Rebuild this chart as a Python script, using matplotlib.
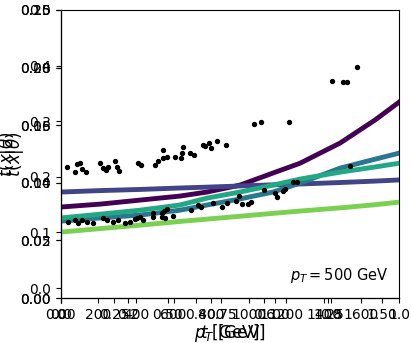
import numpy as np
import matplotlib.pyplot as plt

# upper and lower groups of measured points
pt_hi = [32, 75, 85, 101, 112, 133, 208, 224, 240, 250, 288, 298, 309, 410, 426, 501, 517,
         543, 543, 564, 607, 639, 644, 650, 687, 708, 756, 767, 788, 799, 831, 879, 1028,
         1065, 1214, 1443, 1502, 1523, 1576]
t_hi = [0.0455, 0.0438, 0.0465, 0.0469, 0.0448, 0.0438, 0.0469, 0.0451, 0.0444, 0.0455,
        0.0476, 0.0455, 0.0441, 0.0469, 0.0462, 0.0462, 0.0476, 0.0514, 0.0486, 0.0490,
        0.0490, 0.0486, 0.0503, 0.0524, 0.0503, 0.0496, 0.0531, 0.0528, 0.0538, 0.0521,
        0.0545, 0.0531, 0.0604, 0.0611, 0.0611, 0.0753, 0.0750, 0.0750, 0.0802]
pt_lo = [37, 75, 91, 112, 138, 170, 224, 245, 277, 304, 341, 367, 394, 405, 421, 437, 490,
         490, 538, 538, 548, 564, 554, 596, 692, 730, 746, 809, 857, 884, 932, 948, 964,
         996, 1012, 1081, 1140, 1150, 1182, 1193, 1235, 1257, 1539]
t_lo = [0.0264, 0.0271, 0.0260, 0.0271, 0.0264, 0.0260, 0.0278, 0.0271, 0.0264, 0.0271,
        0.0260, 0.0264, 0.0274, 0.0278, 0.0281, 0.0271, 0.0295, 0.0281, 0.0295, 0.0281,
        0.0302, 0.0309, 0.0278, 0.0285, 0.0305, 0.0323, 0.0316, 0.0330, 0.0316, 0.0330,
        0.0337, 0.0354, 0.0326, 0.0326, 0.0333, 0.0375, 0.0364, 0.0350, 0.0371, 0.0378,
        0.0403, 0.0403, 0.0458]

# fitted curves
pt_grid = [0, 208, 421, 634, 778, 953, 1129, 1273, 1486, 1672, 1800]
curves = {
    '#440154': [0.0316, 0.0326, 0.0340, 0.0354, 0.0368, 0.0392, 0.0434, 0.0468, 0.0538, 0.0618, 0.0680],
    '#414487': [0.0368, 0.0373, 0.0377, 0.0382, 0.0385, 0.0389, 0.0393, 0.0396, 0.0401, 0.0406, 0.0410],
    '#2a788e': [0.0267, 0.0278, 0.0288, 0.0305, 0.0323, 0.0344, 0.0368, 0.0399, 0.0451, 0.0482, 0.0503],
    '#22a884': [0.0278, 0.0291, 0.0305, 0.0323, 0.0347, 0.0368, 0.0392, 0.0413, 0.0437, 0.0455, 0.0468],
    '#7ad151': [0.0229, 0.0241, 0.0253, 0.0266, 0.0274, 0.0284, 0.0294, 0.0302, 0.0313, 0.0324, 0.0333],
}

fig = plt.figure(figsize=(4.11, 3.43), dpi=100)
pos = [0.148, 0.131, 0.823, 0.840]

# leftover empty axes stacked on the same spot
ax0 = fig.add_axes(pos)
ax0.set_xlim(0, 1)
ax0.set_ylim(-0.018, 0.5)
ax0.set_yticks([0, 0.1, 0.2, 0.3, 0.4, 0.5])
ax0.set_ylabel(r'$t(x|\theta)$', fontsize=12, labelpad=2)
ax0.set_xlabel(r'$t$ [GeV]', fontsize=12, labelpad=0.5)

ax1 = fig.add_axes(pos, facecolor='none')
ax1.set_xlim(0, 1.58)
ax1.set_ylim(0, 0.25)
ax1.set_xticks([0, 0.25, 0.5, 0.75, 1.0, 1.25, 1.5])
ax1.set_yticks([0, 0.05, 0.1, 0.15, 0.2, 0.25])
ax1.xaxis.set_major_formatter('{x:.2f}')
ax1.yaxis.set_major_formatter('{x:.2f}')
for s in ['top', 'right']:
    ax1.spines[s].set_visible(False)

ax = fig.add_axes(pos, facecolor='none')
for c, vals in curves.items():
    ax.plot(pt_grid, vals, color=c, lw=3.5)
ax.scatter(pt_hi, t_hi, s=8, color='black', zorder=5)
ax.scatter(pt_lo, t_lo, s=8, color='black', zorder=5)
ax.set_xlim(0, 1800)
ax.set_ylim(0, 0.1)
ax.set_xticks(np.arange(0, 1601, 200))
ax.set_yticks([0, 0.02, 0.04, 0.06, 0.08, 0.1])
for s in ['top', 'right']:
    ax.spines[s].set_visible(False)
ax.set_xlabel(r'$p_T$ [GeV]', fontsize=12, labelpad=0.5)
ax.set_ylabel(r'$t(x|\theta)$', fontsize=12, labelpad=2)
ax.text(0.97, 0.045, r'$p_T = 500$ GeV', transform=ax.transAxes,
        ha='right', va='bottom', fontsize=10.5)

fig.savefig('out.png', dpi=100)
